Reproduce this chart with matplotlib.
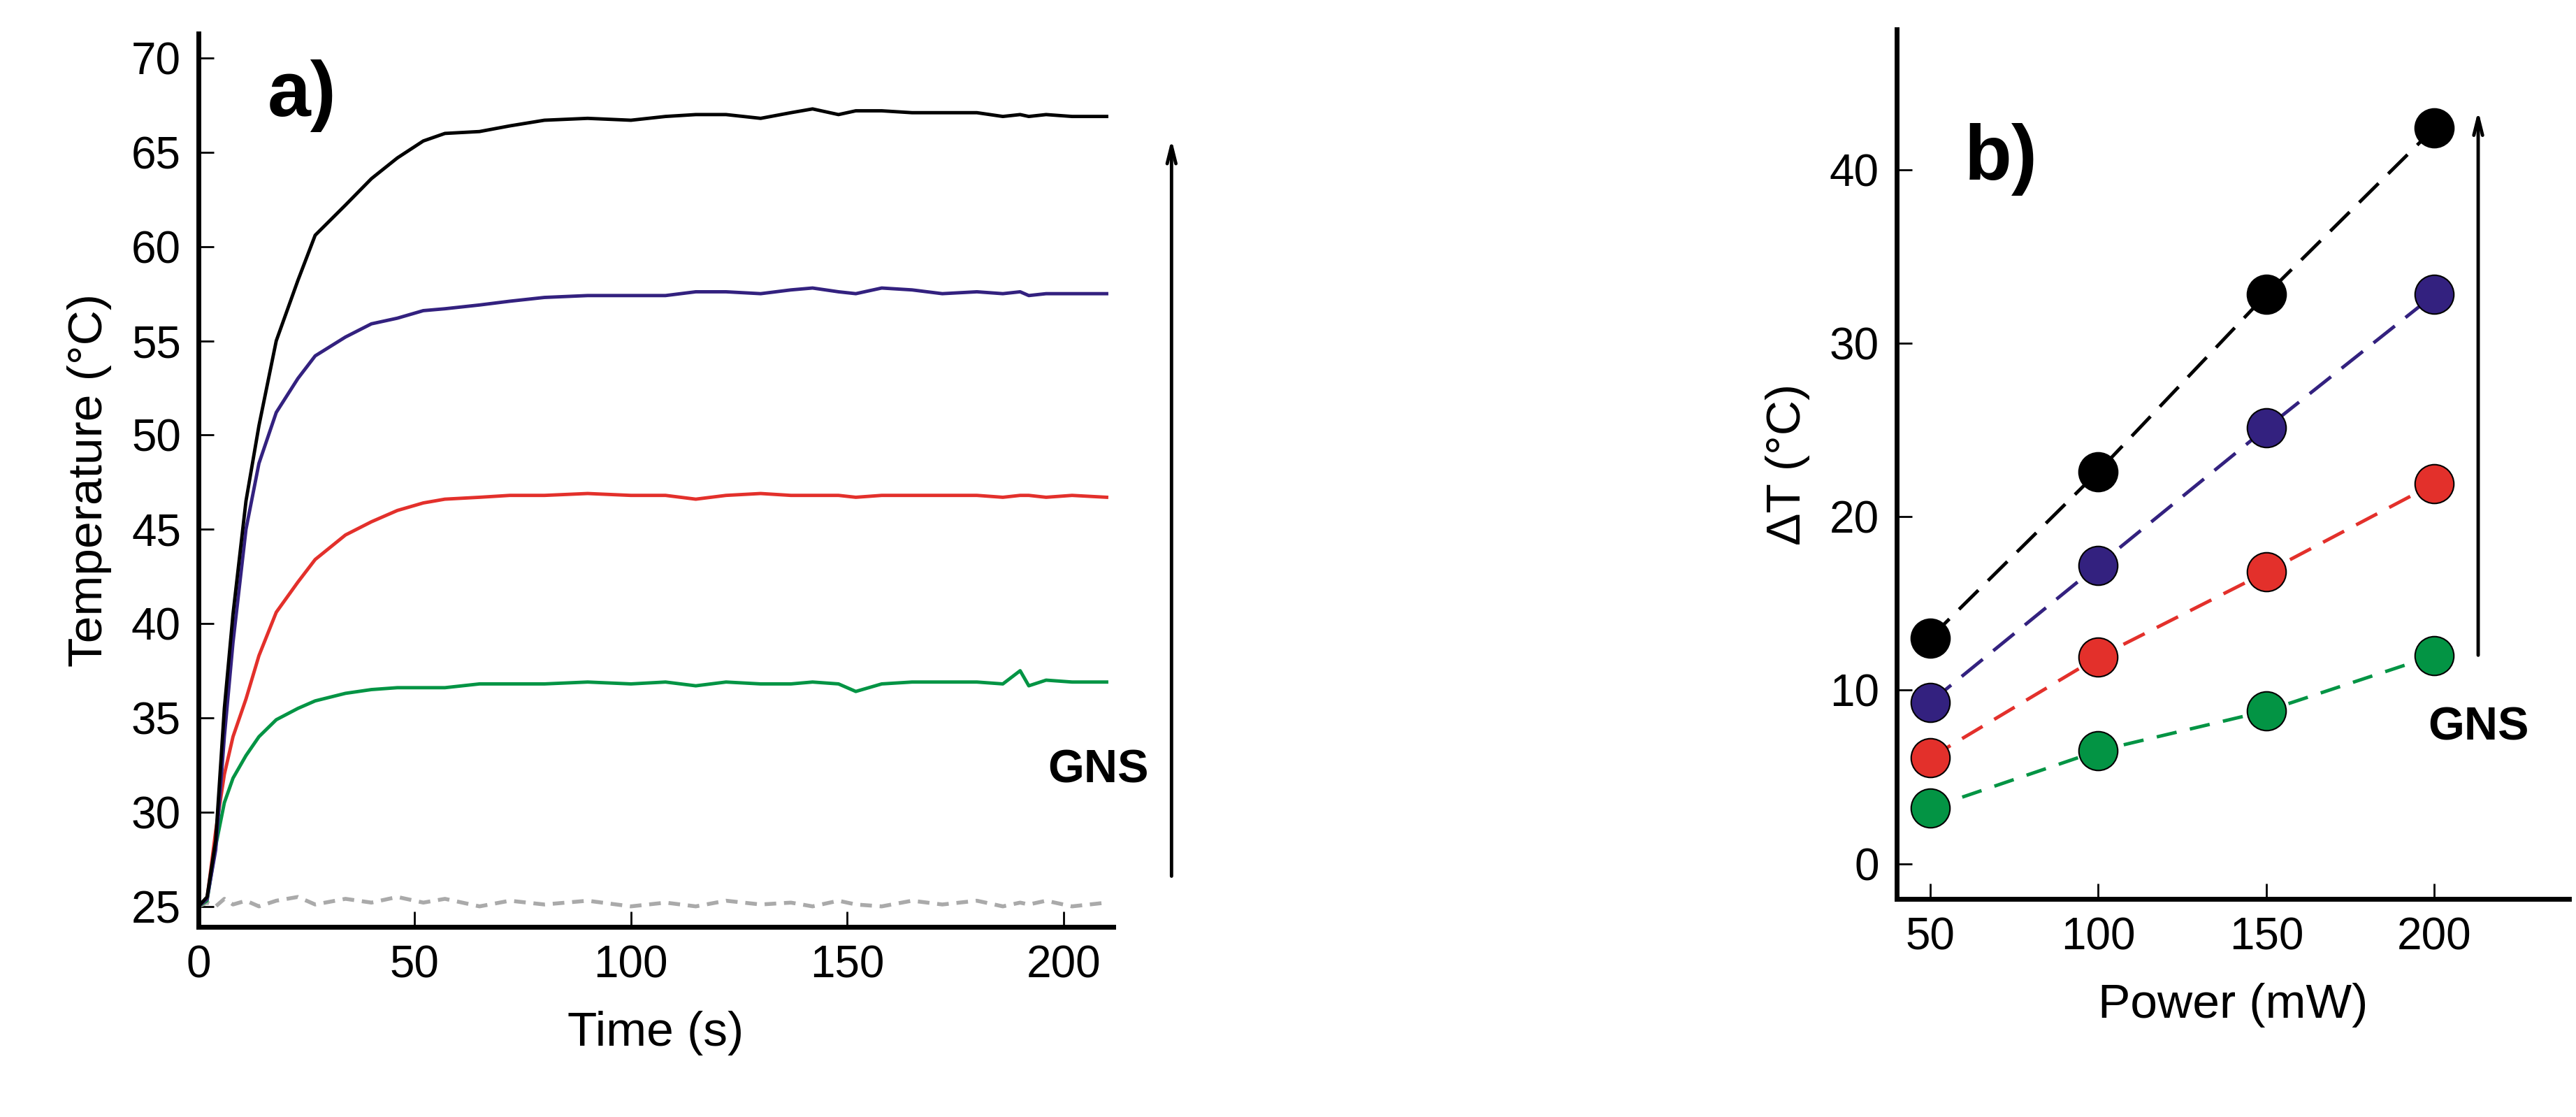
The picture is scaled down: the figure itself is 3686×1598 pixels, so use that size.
import matplotlib
matplotlib.use('Agg')
import matplotlib.pyplot as plt

plt.rcParams['font.family'] = ['Liberation Sans', 'DejaVu Sans']

# panel a data
time = [0, 2, 4, 6, 8, 11, 14, 18, 23, 27, 34, 40, 46, 52, 57, 65, 72, 80, 90, 100, 108, 115, 122, 130,
        137, 142, 148, 152, 158, 165, 172, 180, 186, 190, 192, 196, 202, 210]
t_black = [25, 25.5, 28.5, 35.5, 40.5, 46.5, 50.5, 55, 58.2, 60.6, 62.2, 63.6, 64.7, 65.6, 66, 66.1, 66.4,
           66.7, 66.8, 66.7, 66.9, 67, 67, 66.8, 67.1, 67.3, 67, 67.2, 67.2, 67.1, 67.1, 67.1, 66.9, 67, 66.9, 67, 66.9, 66.9]
t_blue = [25, 25.4, 28, 34, 39, 45, 48.5, 51.2, 53, 54.2, 55.2, 55.9, 56.2, 56.6, 56.7, 56.9, 57.1,
          57.3, 57.4, 57.4, 57.4, 57.6, 57.6, 57.5, 57.7, 57.8, 57.6, 57.5, 57.8, 57.7, 57.5, 57.6, 57.5, 57.6, 57.4, 57.5, 57.5, 57.5]
t_red = [25, 25.4, 29, 32, 34, 36, 38.3, 40.6, 42.2, 43.4, 44.7, 45.4, 46, 46.4, 46.6, 46.7, 46.8,
         46.8, 46.9, 46.8, 46.8, 46.6, 46.8, 46.9, 46.8, 46.8, 46.8, 46.7, 46.8, 46.8, 46.8, 46.8, 46.7, 46.8, 46.8, 46.7, 46.8, 46.7]
t_green = [25, 25.3, 28.2, 30.5, 31.8, 33, 34, 34.9, 35.5, 35.9, 36.3, 36.5, 36.6, 36.6, 36.6, 36.8, 36.8,
           36.8, 36.9, 36.8, 36.9, 36.7, 36.9, 36.8, 36.8, 36.9, 36.8, 36.4, 36.8, 36.9, 36.9, 36.9, 36.8, 37.5, 36.7, 37.0, 36.9, 36.9]
t_gray = [25, 25.2, 25.0, 25.4, 25.1, 25.3, 25.0, 25.3, 25.5, 25.1, 25.4, 25.2, 25.5, 25.2, 25.4, 25.0,
          25.3, 25.1, 25.3, 25.0, 25.2, 25.0, 25.3, 25.1, 25.2, 25.0, 25.3, 25.1, 25.0, 25.3, 25.1, 25.3, 25.0, 25.2, 25.1, 25.3, 25.0, 25.2]

# panel b data
power = [50, 100, 150, 200]
dt_black = [13, 22.6, 32.8, 42.4]
dt_blue = [9.3, 17.2, 25.1, 32.8]
dt_red = [6.1, 11.9, 16.8, 21.9]
dt_green = [3.2, 6.5, 8.8, 12.0]

c_black = 'black'
c_blue = '#33217f'
c_red = '#e3302b'
c_green = '#039444'

fig = plt.figure(figsize=(36.87, 15.98), dpi=100)

# ---- panel a
ax = fig.add_axes([0.077, 0.17, 0.355, 0.80])
ax.plot(time, t_gray, color='#aaaaaa', lw=4, ls=(0, (3, 2)))
for y, c in [(t_green, c_green), (t_red, c_red), (t_blue, c_blue), (t_black, c_black)]:
    ax.plot(time, y, color=c, lw=3.5)
ax.set_xlim(0, 211.5)
ax.set_ylim(23.9, 71.3)
ax.set_xticks([0, 50, 100, 150, 200])
ax.set_yticks(range(25, 71, 5))
ax.set_xlabel('Time (s)', fontsize=50, labelpad=25)
ax.set_ylabel('Temperature (°C)', fontsize=50, labelpad=20)
ax.text(24, 68, 'a)', fontsize=80, fontweight='bold', ha='center', va='center')
ax.annotate('', xy=(225, 65.8), xytext=(225, 26.5), xycoords='data',
            arrowprops=dict(arrowstyle='->,head_length=1.8,head_width=0.45', lw=3.5, color='black'),
            annotation_clip=False)
ax.text(208, 32.2, 'GNS', fontsize=48, fontweight='bold', ha='center', va='center', clip_on=False)

# ---- panel b
bx = fig.add_axes([0.736, 0.195, 0.261, 0.779])
for y, c, dash in [(dt_black, c_black, (8, 4)), (dt_blue, c_blue, (8, 4)),
                   (dt_red, c_red, (7, 4)), (dt_green, c_green, (6, 4))]:
    bx.plot(power, y, color=c, lw=3.5, ls=(0, dash))
    bx.plot(power, y, 'o', color=c, ms=40, mec='black', mew=1.5)
bx.set_xlim(40, 240)
bx.set_ylim(-2.05, 48.1)
bx.set_xticks(power)
bx.set_yticks([0, 10, 20, 30, 40])
bx.set_xlabel('Power (mW)', fontsize=50, labelpad=25)
bx.set_ylabel('ΔT (°C)', fontsize=50, labelpad=20)
bx.text(71, 40.6, 'b)', fontsize=80, fontweight='bold', ha='center', va='center')
bx.annotate('', xy=(213, 43.5), xytext=(213, 11.9),
            arrowprops=dict(arrowstyle='->,head_length=1.8,head_width=0.45', lw=3.5, color='black'))
bx.text(213, 7.8, 'GNS', fontsize=48, fontweight='bold', ha='center', va='center')

for a in [ax, bx]:
    for s in ['top', 'right']:
        a.spines[s].set_visible(False)
    for s in ['left', 'bottom']:
        a.spines[s].set_linewidth(5)
    a.tick_params(direction='in', labelsize=46, width=2, length=16, pad=18)

fig.savefig('out.png', dpi=100)
